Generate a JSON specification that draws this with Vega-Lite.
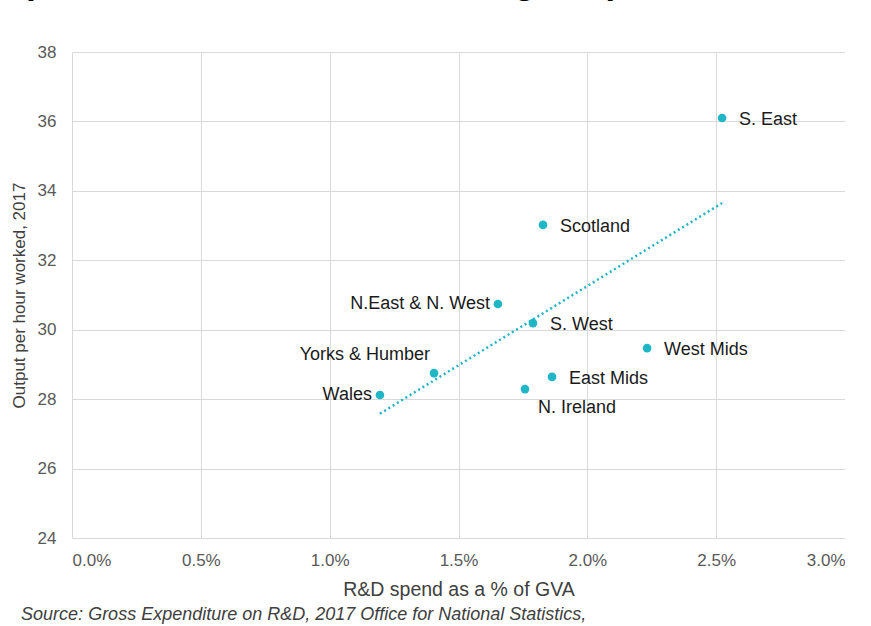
{
  "$schema": "https://vega.github.io/schema/vega-lite/v6.json",
  "padding": {"top": -34, "left": 10, "right": 0, "bottom": 0},
  "background": "white",
  "title": {
    "text": "(excl. London and Eastern England)",
    "fontSize": 35,
    "fontWeight": "bold",
    "font": "Liberation Sans",
    "color": "#000000",
    "anchor": "start",
    "frame": "bounds",
    "dx": 12,
    "offset": 42
  },
  "datasets": {
    "regions": [
      {"region": "S. East", "rd": 2.523, "output": 36.1, "side": "right"},
      {"region": "Scotland", "rd": 1.828, "output": 33.02, "side": "right"},
      {"region": "N.East & N. West", "rd": 1.653, "output": 30.74, "side": "left"},
      {"region": "S. West", "rd": 1.789, "output": 30.19, "side": "right"},
      {"region": "West Mids", "rd": 2.232, "output": 29.47, "side": "right"},
      {"region": "Yorks & Humber", "rd": 1.405, "output": 28.75, "side": "above"},
      {"region": "East Mids", "rd": 1.863, "output": 28.64, "side": "right"},
      {"region": "Wales", "rd": 1.195, "output": 28.12, "side": "left"},
      {"region": "N. Ireland", "rd": 1.758, "output": 28.29, "side": "below"}
    ]
  },
  "config": {
    "font": "Liberation Sans",
    "axis": {
      "labelFont": "Liberation Sans",
      "titleFont": "Liberation Sans",
      "labelFontSize": 17,
      "labelColor": "#595959",
      "titleColor": "#404040",
      "titleFontWeight": "normal",
      "gridColor": "#D9D9D9",
      "gridWidth": 1,
      "domain": false,
      "ticks": false
    },
    "view": {"stroke": null}
  },
  "vconcat": [
    {
      "width": 773,
      "height": 486,
      "title": {
        "text": "Source: Gross Expenditure on R&D, 2017 Office for National Statistics,",
        "orient": "bottom",
        "anchor": "start",
        "frame": "bounds",
        "fontStyle": "italic",
        "fontWeight": "normal",
        "fontSize": 18,
        "color": "#404040",
        "dx": 11,
        "offset": 7
      },
      "data": {"name": "regions"},
      "encoding": {
        "x": {
          "field": "rd",
          "type": "quantitative",
          "scale": {"domain": [0, 3], "nice": false},
          "axis": {
            "title": "R&D spend as a % of GVA",
            "titleFontSize": 19.5,
            "values": [0, 0.5, 1, 1.5, 2, 2.5, 3],
            "labelExpr": "format(datum.value, '.1f') + '%'",
            "labelPadding": 14,
            "titlePadding": 12
          }
        },
        "y": {
          "field": "output",
          "type": "quantitative",
          "scale": {"domain": [24, 38], "nice": false, "zero": false},
          "axis": {
            "title": "Output per hour worked, 2017",
            "titleFontSize": 17,
            "values": [24, 26, 28, 30, 32, 34, 36, 38],
            "labelPadding": 16,
            "titlePadding": 9
          }
        }
      },
      "layer": [
        {
          "transform": [{"regression": "output", "on": "rd"}],
          "mark": {"type": "line", "color": "#1FB6C6", "strokeWidth": 2.5, "strokeDash": [2, 3]}
        },
        {
          "mark": {"type": "circle", "size": 75, "opacity": 1, "color": "#1FB6C6"}
        },
        {
          "transform": [{"filter": "datum.side === 'right'"}],
          "mark": {"type": "text", "align": "left", "baseline": "middle", "dx": 17, "dy": 2, "fontSize": 18, "color": "#1a1a1a"},
          "encoding": {"text": {"field": "region"}}
        },
        {
          "transform": [{"filter": "datum.side === 'left'"}],
          "mark": {"type": "text", "align": "right", "baseline": "middle", "dx": -8, "dy": 0, "fontSize": 18, "color": "#1a1a1a"},
          "encoding": {"text": {"field": "region"}}
        },
        {
          "transform": [{"filter": "datum.side === 'above'"}],
          "mark": {"type": "text", "align": "right", "baseline": "middle", "dx": -4, "dy": -18, "fontSize": 18, "color": "#1a1a1a"},
          "encoding": {"text": {"field": "region"}}
        },
        {
          "transform": [{"filter": "datum.side === 'below'"}],
          "mark": {"type": "text", "align": "left", "baseline": "middle", "dx": 13, "dy": 19, "fontSize": 18, "color": "#1a1a1a"},
          "encoding": {"text": {"field": "region"}}
        }
      ]
    }
  ]
}
